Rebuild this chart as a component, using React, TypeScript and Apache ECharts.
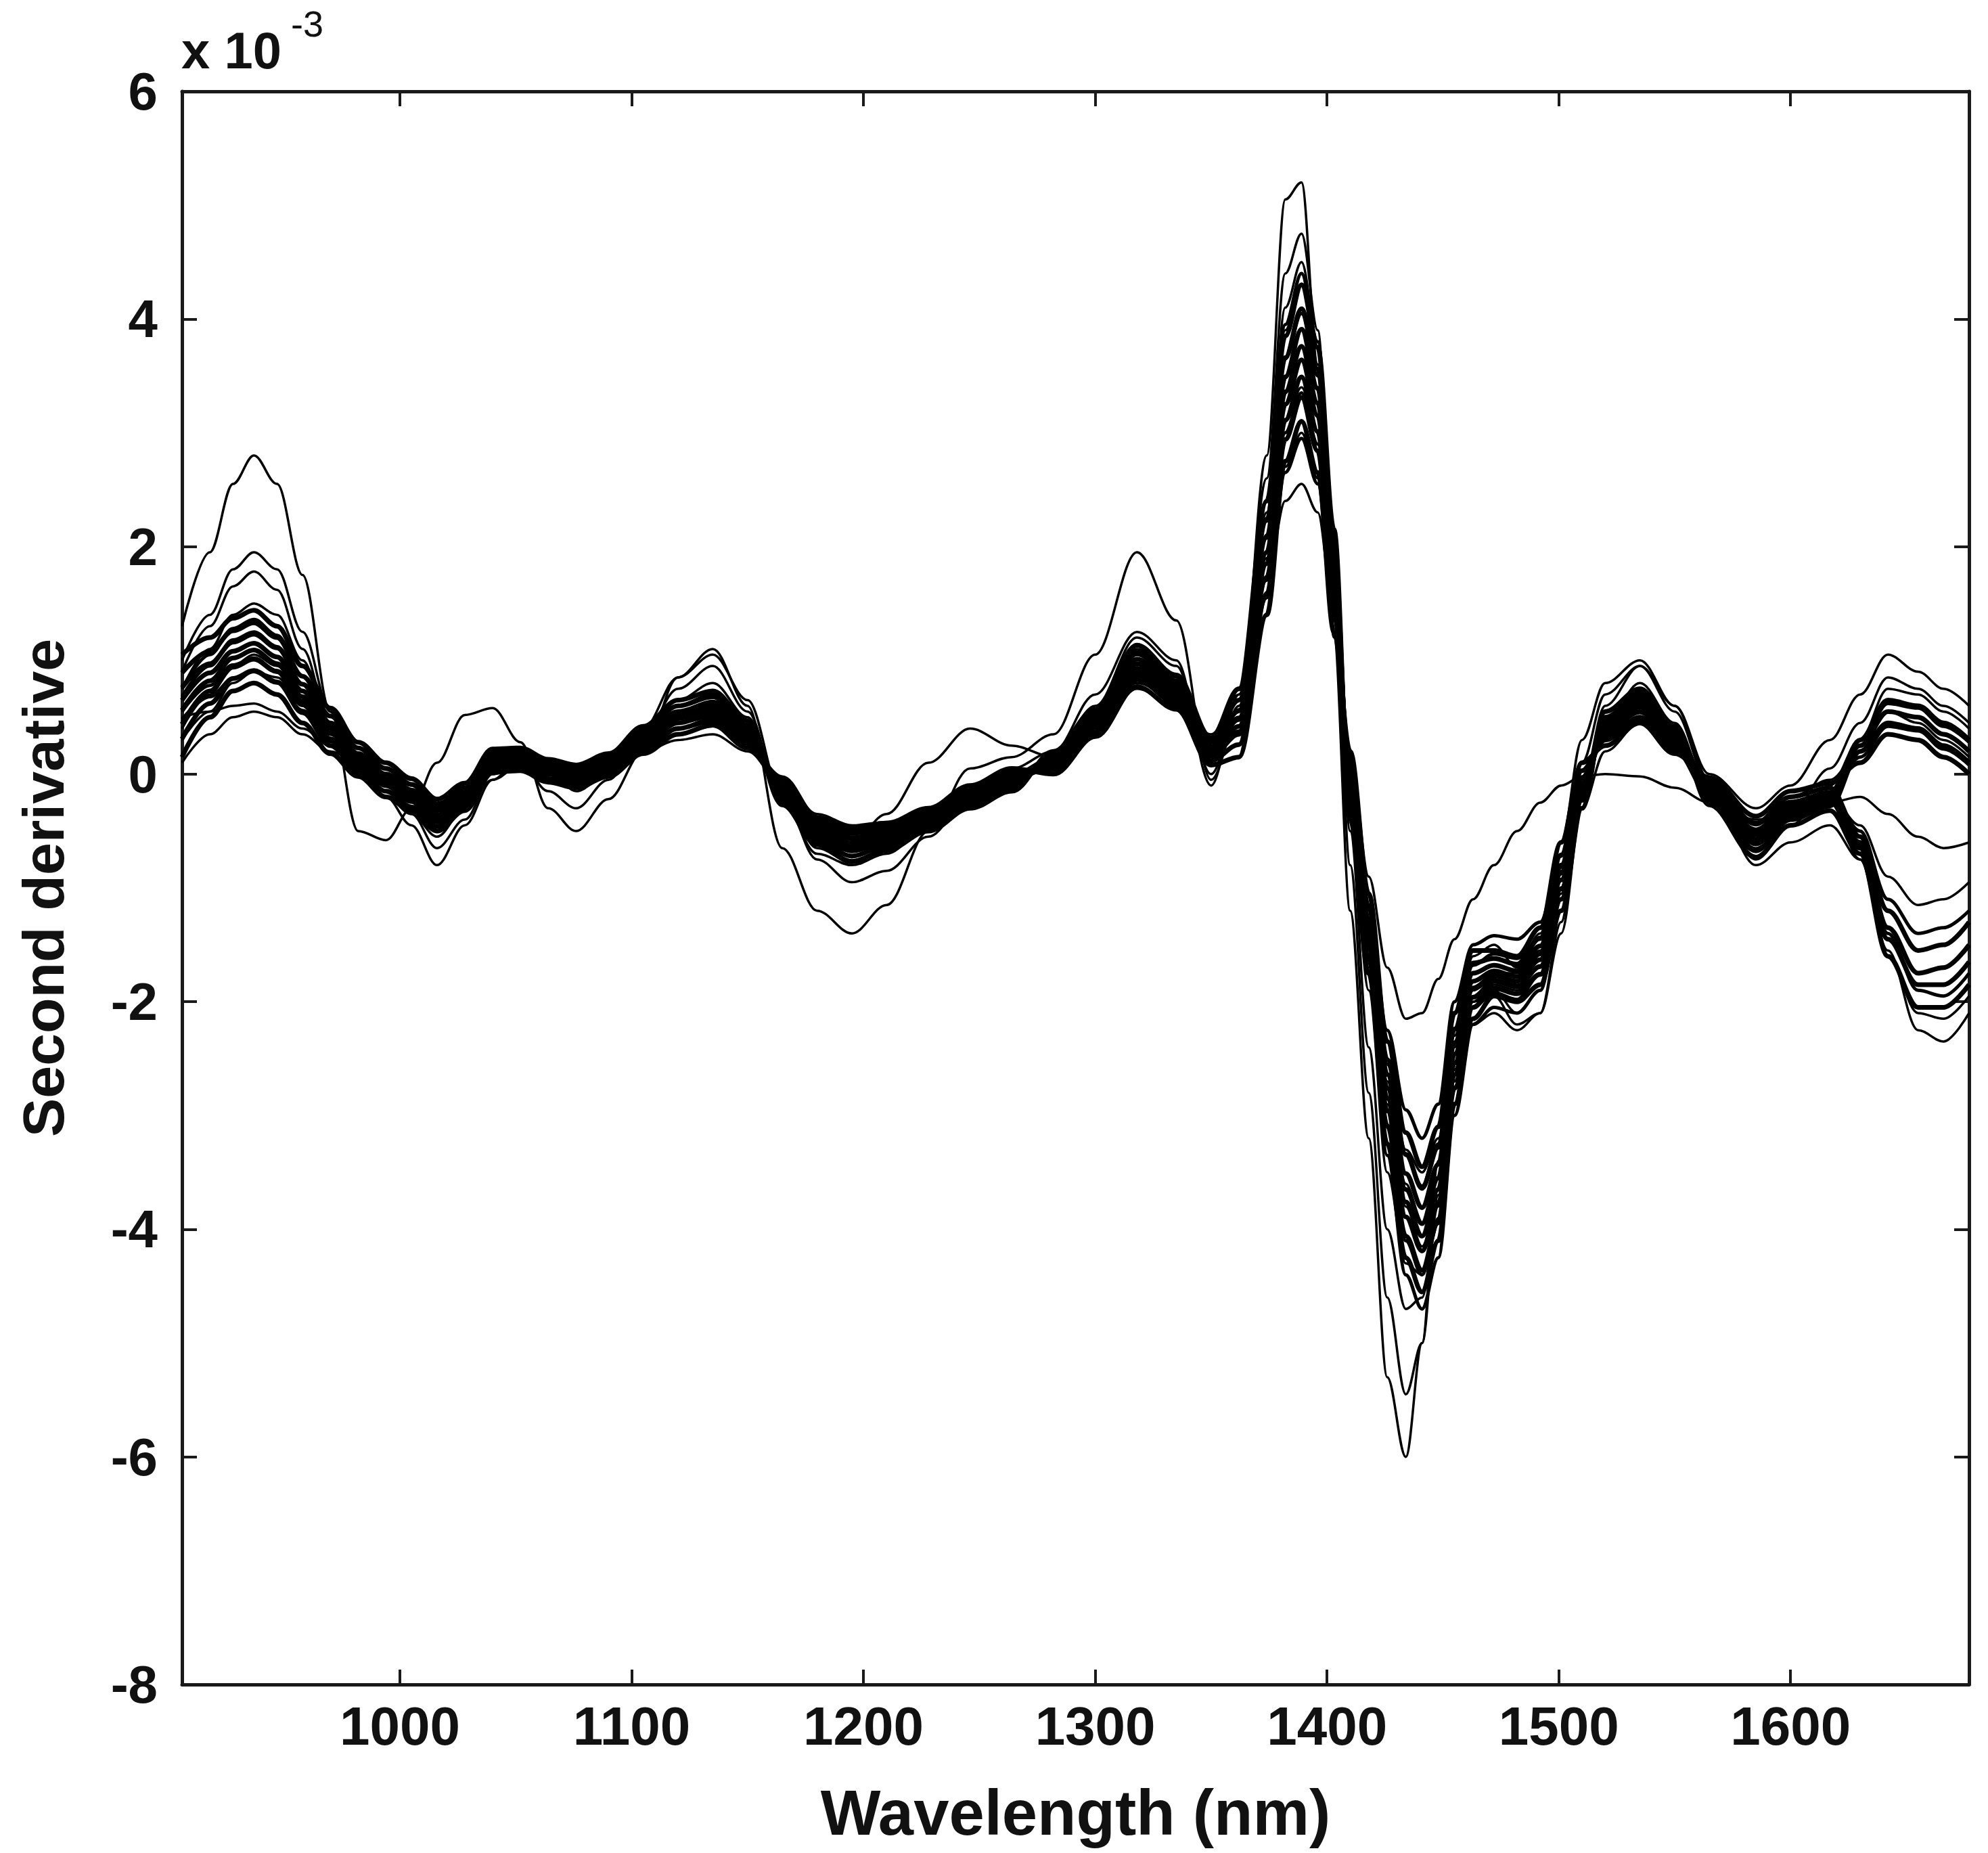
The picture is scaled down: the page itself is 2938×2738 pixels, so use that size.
import React, { useEffect, useRef } from "react";
import * as echarts from "echarts";

// Wavelength sample points (nm)
const wavelengths = [906, 918, 928, 937, 947, 958, 970, 982, 994, 1005, 1016, 1028, 1040, 1052, 1064, 1076, 1090, 1105, 1120, 1135, 1150, 1165, 1180, 1195, 1210, 1228, 1246, 1264, 1282, 1300, 1318, 1335, 1350, 1362, 1374, 1382, 1389, 1396, 1403, 1410, 1418, 1426, 1434, 1441, 1448, 1455, 1463, 1472, 1482, 1492, 1501, 1510, 1520, 1535, 1550, 1565, 1585, 1600, 1617, 1630, 1642, 1655, 1666, 1677];

const xTickValues = [1000, 1100, 1200, 1300, 1400, 1500, 1600];

// Second derivative values (x 10^-3), core band spectra
const spectrum01 = [0.15, 0.50, 0.73, 0.80, 0.70, 0.45, 0.18, -0.02, -0.20, -0.32, -0.50, -0.32, 0.02, 0.03, -0.07, -0.12, -0.02, 0.18, 0.35, 0.43, 0.23, -0.03, -0.38, -0.47, -0.43, -0.30, -0.10, 0.05, 0.00, 0.33, 0.77, 0.57, 0.08, 0.15, 1.40, 2.75, 3.10, 2.65, 1.25, 0.20, -1.05, -2.35, -3.15, -3.45, -3.10, -2.10, -1.55, -1.55, -1.60, -1.35, -0.60, 0.10, 0.25, 0.45, 0.18, -0.03, -0.37, -0.15, -0.08, 0.10, 0.35, 0.30, 0.15, 0.00];
const spectrum02 = [0.31, 0.62, 0.84, 0.91, 0.81, 0.54, 0.25, 0.03, -0.15, -0.29, -0.46, -0.28, 0.06, 0.07, -0.04, -0.09, 0.02, 0.22, 0.40, 0.48, 0.27, -0.07, -0.42, -0.52, -0.47, -0.34, -0.14, 0.02, 0.04, 0.37, 0.83, 0.62, 0.12, 0.26, 1.58, 2.94, 3.31, 2.84, 1.41, 0.10, -1.17, -2.51, -3.34, -3.64, -3.28, -2.24, -1.66, -1.62, -1.67, -1.44, -0.71, 0.03, 0.30, 0.50, 0.22, -0.07, -0.43, -0.20, -0.12, -0.55, -1.20, -1.55, -1.50, -1.30];
const spectrum03 = [0.44, 0.73, 0.94, 1.01, 0.90, 0.61, 0.31, 0.08, -0.10, -0.24, -0.42, -0.24, 0.09, 0.10, 0.00, -0.06, 0.05, 0.26, 0.45, 0.53, 0.31, -0.11, -0.46, -0.57, -0.51, -0.37, -0.17, -0.02, 0.07, 0.41, 0.89, 0.67, 0.16, 0.35, 1.73, 3.11, 3.49, 3.01, 1.54, 0.00, -1.28, -2.64, -3.51, -3.81, -3.43, -2.36, -1.75, -1.68, -1.73, -1.51, -0.80, -0.03, 0.35, 0.55, 0.26, -0.11, -0.49, -0.25, -0.16, 0.25, 0.55, 0.50, 0.35, 0.20];
const spectrum04 = [0.56, 0.82, 1.02, 1.09, 0.97, 0.68, 0.36, 0.12, -0.07, -0.21, -0.39, -0.21, 0.11, 0.12, 0.02, -0.03, 0.07, 0.29, 0.49, 0.57, 0.34, -0.14, -0.49, -0.61, -0.54, -0.39, -0.19, -0.04, 0.09, 0.44, 0.93, 0.71, 0.19, 0.42, 1.85, 3.25, 3.64, 3.15, 1.66, -0.07, -1.37, -2.76, -3.65, -3.95, -3.55, -2.46, -1.82, -1.73, -1.78, -1.58, -0.87, -0.08, 0.39, 0.59, 0.29, -0.14, -0.53, -0.29, -0.19, -0.65, -1.45, -1.85, -1.85, -1.65];
const spectrum05 = [0.65, 0.89, 1.08, 1.15, 1.03, 0.73, 0.40, 0.15, -0.04, -0.18, -0.36, -0.19, 0.13, 0.14, 0.04, -0.01, 0.09, 0.31, 0.52, 0.60, 0.36, -0.16, -0.51, -0.64, -0.56, -0.41, -0.21, -0.06, 0.11, 0.46, 0.97, 0.74, 0.21, 0.48, 1.95, 3.36, 3.76, 3.26, 1.75, -0.13, -1.44, -2.85, -3.76, -4.06, -3.65, -2.54, -1.88, -1.77, -1.82, -1.63, -0.93, -0.12, 0.42, 0.62, 0.31, -0.16, -0.57, -0.32, -0.21, 0.30, 0.65, 0.60, 0.45, 0.30];
const spectrum06 = [0.76, 0.97, 1.16, 1.23, 1.11, 0.79, 0.45, 0.18, 0.00, -0.14, -0.32, -0.16, 0.16, 0.17, 0.07, 0.02, 0.12, 0.34, 0.55, 0.63, 0.39, -0.19, -0.54, -0.67, -0.59, -0.44, -0.24, -0.09, 0.14, 0.49, 1.01, 0.77, 0.24, 0.56, 2.08, 3.49, 3.91, 3.39, 1.86, -0.20, -1.52, -2.96, -3.89, -4.19, -3.78, -2.64, -1.96, -1.82, -1.87, -1.69, -1.01, -0.17, 0.45, 0.65, 0.34, -0.19, -0.61, -0.35, -0.24, -0.60, -1.35, -1.75, -1.70, -1.50];
const spectrum07 = [0.89, 1.08, 1.26, 1.33, 1.20, 0.86, 0.51, 0.23, 0.05, -0.09, -0.27, -0.12, 0.19, 0.20, 0.10, 0.05, 0.15, 0.38, 0.60, 0.68, 0.43, -0.23, -0.58, -0.72, -0.63, -0.47, -0.27, -0.12, 0.17, 0.53, 1.07, 0.82, 0.28, 0.65, 2.23, 3.66, 4.09, 3.56, 1.99, -0.30, -1.63, -3.09, -4.06, -4.36, -3.93, -2.76, -2.05, -1.88, -1.93, -1.76, -1.10, -0.23, 0.50, 0.70, 0.38, -0.23, -0.67, -0.40, -0.28, 0.20, 0.45, 0.40, 0.25, 0.10];
const spectrum08 = [1.05, 1.20, 1.37, 1.44, 1.30, 0.95, 0.58, 0.28, 0.10, -0.04, -0.22, -0.08, 0.22, 0.23, 0.13, 0.08, 0.18, 0.42, 0.65, 0.73, 0.47, -0.27, -0.62, -0.77, -0.67, -0.50, -0.30, -0.15, 0.20, 0.57, 1.13, 0.87, 0.32, 0.75, 2.40, 3.85, 4.30, 3.75, 2.15, -0.40, -1.75, -3.25, -4.25, -4.55, -4.10, -2.90, -2.15, -1.95, -2.00, -1.85, -1.20, -0.30, 0.55, 0.75, 0.42, -0.27, -0.73, -0.45, -0.32, -0.70, -1.60, -2.05, -2.05, -1.85];
const spectrum17 = [0.75, 1.05, 1.28, 1.36, 1.22, 0.86, 0.45, 0.14, -0.08, -0.22, -0.40, -0.25, 0.14, 0.16, 0.02, -0.04, 0.10, 0.36, 0.60, 0.70, 0.42, -0.20, -0.62, -0.76, -0.67, -0.49, -0.25, -0.07, 0.12, 0.54, 1.14, 0.87, 0.22, 0.55, 2.25, 3.95, 4.40, 3.80, 2.00, -0.20, -1.75, -3.35, -4.40, -4.70, -4.25, -3.00, -2.20, -2.05, -2.10, -1.90, -1.10, -0.15, 0.48, 0.72, 0.36, -0.20, -0.68, -0.38, -0.22, 0.25, 0.62, 0.58, 0.42, 0.28];
const spectrum18 = [0.48, 0.68, 0.84, 0.90, 0.80, 0.56, 0.30, 0.10, -0.04, -0.14, -0.26, -0.16, 0.10, 0.10, 0.02, -0.02, 0.06, 0.24, 0.40, 0.46, 0.28, -0.12, -0.40, -0.50, -0.44, -0.32, -0.16, -0.04, 0.08, 0.36, 0.76, 0.58, 0.17, 0.38, 1.55, 2.65, 2.95, 2.55, 1.35, -0.05, -1.15, -2.25, -2.95, -3.20, -2.90, -2.00, -1.50, -1.42, -1.45, -1.30, -0.72, -0.08, 0.32, 0.48, 0.24, -0.12, -0.44, -0.24, -0.16, -0.50, -1.10, -1.40, -1.35, -1.20];
const spectrum19 = [0.68, 0.95, 1.18, 1.25, 1.12, 0.79, 0.42, 0.14, -0.06, -0.19, -0.36, -0.22, 0.13, 0.14, 0.03, -0.02, 0.09, 0.33, 0.55, 0.64, 0.39, -0.17, -0.55, -0.68, -0.61, -0.44, -0.22, -0.06, 0.11, 0.50, 1.05, 0.80, 0.22, 0.50, 2.10, 3.65, 4.05, 3.50, 1.85, -0.15, -1.60, -3.10, -4.10, -4.40, -3.95, -2.75, -2.05, -1.92, -1.98, -1.76, -1.00, -0.12, 0.44, 0.66, 0.33, -0.17, -0.62, -0.34, -0.22, -0.62, -1.40, -1.90, -1.95, -1.75];
const spectrum20 = [0.55, 0.78, 0.96, 1.02, 0.91, 0.64, 0.35, 0.12, -0.05, -0.16, -0.30, -0.18, 0.11, 0.12, 0.03, -0.02, 0.07, 0.27, 0.45, 0.52, 0.32, -0.14, -0.45, -0.56, -0.50, -0.36, -0.18, -0.05, 0.09, 0.41, 0.86, 0.65, 0.18, 0.42, 1.72, 3.00, 3.35, 2.90, 1.55, -0.08, -1.28, -2.55, -3.35, -3.62, -3.25, -2.25, -1.68, -1.58, -1.62, -1.45, -0.82, -0.09, 0.36, 0.54, 0.27, -0.14, -0.50, -0.27, -0.18, 0.15, 0.42, 0.38, 0.22, 0.08];

// Outlying spectra
const spectrum09 = [1.30, 1.95, 2.55, 2.80, 2.55, 1.75, 0.55, -0.50, -0.58, -0.30, 0.10, 0.52, 0.58, 0.28, -0.30, -0.50, -0.22, 0.20, 0.85, 1.10, 0.60, -0.65, -1.20, -1.40, -1.15, -0.50, 0.05, 0.15, 0.35, 1.05, 1.95, 1.35, -0.05, 0.50, 2.80, 5.05, 5.20, 3.60, 1.20, -1.20, -3.20, -5.30, -6.00, -5.00, -3.40, -2.30, -1.60, -1.50, -1.70, -1.40, -0.60, 0.30, 0.80, 1.00, 0.60, 0.00, -0.30, -0.10, 0.30, 0.70, 1.05, 0.90, 0.75, 0.60];
const spectrum10 = [1.00, 1.40, 1.80, 1.95, 1.80, 1.25, 0.55, 0.10, -0.20, -0.45, -0.80, -0.45, -0.05, 0.15, 0.05, -0.15, 0.00, 0.40, 0.85, 1.05, 0.65, -0.20, -0.75, -0.95, -0.85, -0.55, -0.20, 0.05, 0.20, 0.70, 1.25, 1.00, -0.10, 0.70, 2.60, 4.40, 4.75, 3.90, 1.60, -0.80, -2.80, -4.60, -5.45, -5.00, -3.70, -2.60, -1.95, -1.90, -2.10, -1.90, -1.00, 0.10, 0.70, 0.95, 0.55, -0.10, -0.80, -0.60, -0.45, -0.75, -1.55, -2.25, -2.35, -2.10];
const spectrum11 = [0.90, 1.30, 1.65, 1.78, 1.62, 1.10, 0.45, 0.05, -0.15, -0.35, -0.65, -0.40, 0.00, 0.10, -0.15, -0.30, -0.05, 0.35, 0.75, 0.95, 0.55, -0.25, -0.70, -0.80, -0.70, -0.45, -0.15, 0.00, 0.15, 0.60, 1.20, 0.95, 0.00, 0.60, 2.40, 4.10, 4.50, 3.80, 1.90, -0.50, -2.40, -4.00, -4.70, -4.60, -3.80, -2.70, -2.00, -1.95, -2.20, -2.10, -1.30, -0.10, 0.60, 0.95, 0.60, -0.05, -0.60, -0.35, 0.05, 0.45, 0.85, 0.75, 0.60, 0.45];
const spectrum12 = [0.50, 0.55, 0.60, 0.62, 0.55, 0.40, 0.25, 0.15, 0.10, -0.05, -0.25, -0.15, 0.05, 0.10, 0.00, -0.05, 0.05, 0.20, 0.35, 0.42, 0.28, -0.05, -0.35, -0.45, -0.42, -0.35, -0.20, -0.05, 0.05, 0.35, 0.75, 0.60, 0.35, 0.70, 1.70, 2.40, 2.55, 2.30, 1.40, 0.20, -0.90, -1.70, -2.15, -2.10, -1.80, -1.45, -1.10, -0.80, -0.50, -0.25, -0.10, -0.02, 0.00, -0.02, -0.12, -0.25, -0.40, -0.35, -0.25, -0.20, -0.35, -0.55, -0.65, -0.60];
const spectrum13 = [0.10, 0.35, 0.50, 0.55, 0.50, 0.35, 0.20, 0.10, 0.05, -0.10, -0.30, -0.20, 0.00, 0.05, -0.05, -0.10, 0.05, 0.20, 0.30, 0.35, 0.20, -0.10, -0.40, -0.55, -0.50, -0.35, -0.15, 0.00, 0.10, 0.40, 0.80, 0.65, 0.30, 0.50, 1.60, 2.70, 3.00, 2.60, 1.40, 0.00, -1.20, -2.50, -3.30, -3.50, -3.20, -2.40, -1.90, -1.80, -1.85, -1.70, -1.10, -0.30, 0.20, 0.45, 0.20, -0.20, -0.50, -0.30, -0.20, -0.45, -0.90, -1.15, -1.10, -0.95];
const spectrum14 = [0.75, 1.10, 1.40, 1.50, 1.40, 1.00, 0.40, 0.00, -0.20, -0.35, -0.55, -0.30, 0.00, 0.12, 0.00, -0.12, 0.05, 0.35, 0.65, 0.80, 0.50, -0.20, -0.65, -0.78, -0.65, -0.45, -0.20, -0.02, 0.12, 0.55, 1.10, 0.85, 0.15, 0.65, 2.30, 3.90, 4.30, 3.60, 1.80, -0.30, -1.90, -3.50, -4.30, -4.40, -3.90, -2.90, -2.20, -2.10, -2.25, -2.10, -1.40, -0.30, 0.45, 0.80, 0.45, -0.15, -0.75, -0.45, -0.10, 0.30, 0.75, 0.70, 0.55, 0.40];
const spectrum15 = [0.40, 0.70, 0.95, 1.05, 0.95, 0.65, 0.28, 0.05, -0.08, -0.22, -0.42, -0.22, 0.05, 0.10, 0.00, -0.05, 0.10, 0.30, 0.50, 0.55, 0.32, -0.15, -0.45, -0.55, -0.50, -0.38, -0.18, -0.04, 0.10, 0.45, 0.90, 0.70, 0.22, 0.55, 2.10, 3.50, 3.90, 3.40, 1.90, 0.10, -1.30, -2.70, -3.60, -3.95, -3.70, -2.70, -2.00, -1.85, -1.90, -1.75, -1.05, -0.20, 0.40, 0.65, 0.35, -0.20, -0.65, -0.40, -0.25, -0.75, -1.60, -2.10, -2.15, -1.95];
const spectrum16 = [0.30, 0.55, 0.80, 0.90, 0.85, 0.60, 0.30, 0.10, 0.00, -0.15, -0.40, -0.30, -0.05, 0.08, 0.05, 0.00, 0.12, 0.28, 0.45, 0.50, 0.30, -0.20, -0.55, -0.60, -0.35, 0.10, 0.40, 0.25, 0.15, 0.40, 0.85, 0.70, 0.28, 0.55, 1.90, 3.10, 3.40, 3.00, 1.60, -0.20, -1.50, -2.90, -3.80, -4.15, -3.75, -2.60, -1.90, -1.75, -1.75, -1.55, -0.85, -0.05, 0.45, 0.68, 0.40, -0.10, -0.45, -0.20, -0.05, 0.20, 0.55, 0.45, 0.30, 0.15];

const coreSpectra = [spectrum01, spectrum02, spectrum03, spectrum04, spectrum05, spectrum06, spectrum07, spectrum08];
const extraSpectra = [spectrum17, spectrum18, spectrum19, spectrum20];
const outlierSpectra = [spectrum09, spectrum10, spectrum11, spectrum12, spectrum13, spectrum14, spectrum15, spectrum16];

const FONT = "'Liberation Sans', Arial, Helvetica, sans-serif";
const INK = "#111111";

export default function App() {
  const ref = useRef<HTMLDivElement>(null);

  useEffect(() => {
    if (!ref.current) return;
    const chart = echarts.init(ref.current, null, { renderer: "svg" });

    const toPairs = (vals: number[]) => wavelengths.map((w, i) => [w, vals[i]]);
    const makeSeries = (vals: number[], name: string, width: number) => ({
      type: "line",
      name,
      data: toPairs(vals),
      xAxisIndex: 0,
      yAxisIndex: 0,
      showSymbol: false,
      symbol: "none",
      smooth: 0.35,
      smoothMonotone: "x",
      silent: true,
      lineStyle: { color: "#000000", width },
    });

    const axisLine = { show: true, onZero: false, lineStyle: { color: "#1a1a1a", width: 5 } };
    const tickStyle = { color: "#1a1a1a", width: 4 };

    chart.setOption({
      animation: false,
      backgroundColor: "#ffffff",
      grid: { left: 269, right: 28, top: 135, bottom: 249, containLabel: false },
      xAxis: [
        {
          type: "value",
          position: "bottom",
          min: 906,
          max: 1677,
          axisLine,
          axisTick: { show: true, inside: true, length: 22, lineStyle: tickStyle, customValues: xTickValues },
          axisLabel: {
            show: true,
            customValues: xTickValues,
            formatter: (v: number) => String(v),
            fontSize: 80,
            fontWeight: "bold",
            fontFamily: FONT,
            color: INK,
            margin: 21,
          },
          splitLine: { show: false },
          name: "Wavelength (nm)",
          nameLocation: "middle",
          nameGap: 142,
          nameTextStyle: { fontSize: 94, fontWeight: "bold", fontFamily: FONT, color: INK },
        },
        {
          type: "value",
          position: "top",
          min: 906,
          max: 1677,
          axisLine,
          axisTick: { show: true, inside: true, length: 22, lineStyle: tickStyle, customValues: xTickValues },
          axisLabel: { show: false },
          splitLine: { show: false },
        },
      ],
      yAxis: [
        {
          type: "value",
          position: "left",
          min: -8,
          max: 6,
          interval: 2,
          axisLine,
          axisTick: { show: true, inside: true, length: 22, lineStyle: tickStyle },
          axisLabel: {
            show: true,
            fontSize: 78,
            fontWeight: "bold",
            fontFamily: FONT,
            color: INK,
            margin: 36,
          },
          splitLine: { show: false },
          name: "Second derivative",
          nameLocation: "middle",
          nameRotate: 90,
          nameGap: 162,
          nameTextStyle: { fontSize: 86, fontWeight: "bold", fontFamily: FONT, color: INK },
        },
        {
          type: "value",
          position: "right",
          min: -8,
          max: 6,
          interval: 2,
          axisLine,
          axisTick: { show: true, inside: true, length: 22, lineStyle: tickStyle },
          axisLabel: { show: false },
          splitLine: { show: false },
        },
      ],
      graphic: [
        {
          type: "text",
          left: 268,
          top: 36,
          style: { text: "x 10", fontSize: 76, fontWeight: "bold", fontFamily: FONT, fill: INK },
        },
        {
          type: "text",
          left: 430,
          top: 8,
          style: { text: "-3", fontSize: 54, fontWeight: "normal", fontFamily: FONT, fill: INK },
        },
      ],
      series: [
        ...outlierSpectra.map((s, i) => makeSeries(s, "outlier " + (i + 1), 3.5)),
        ...extraSpectra.map((s, i) => makeSeries(s, "extra " + (i + 1), 5)),
        ...coreSpectra.map((s, i) => makeSeries(s, "core " + (i + 1), 7)),
      ],
    });

    return () => chart.dispose();
  }, []);

  return (
    <div
      ref={ref}
      style={{ position: "fixed", left: 0, top: 0, width: 2938, height: 2738, background: "#ffffff" }}
    />
  );
}
